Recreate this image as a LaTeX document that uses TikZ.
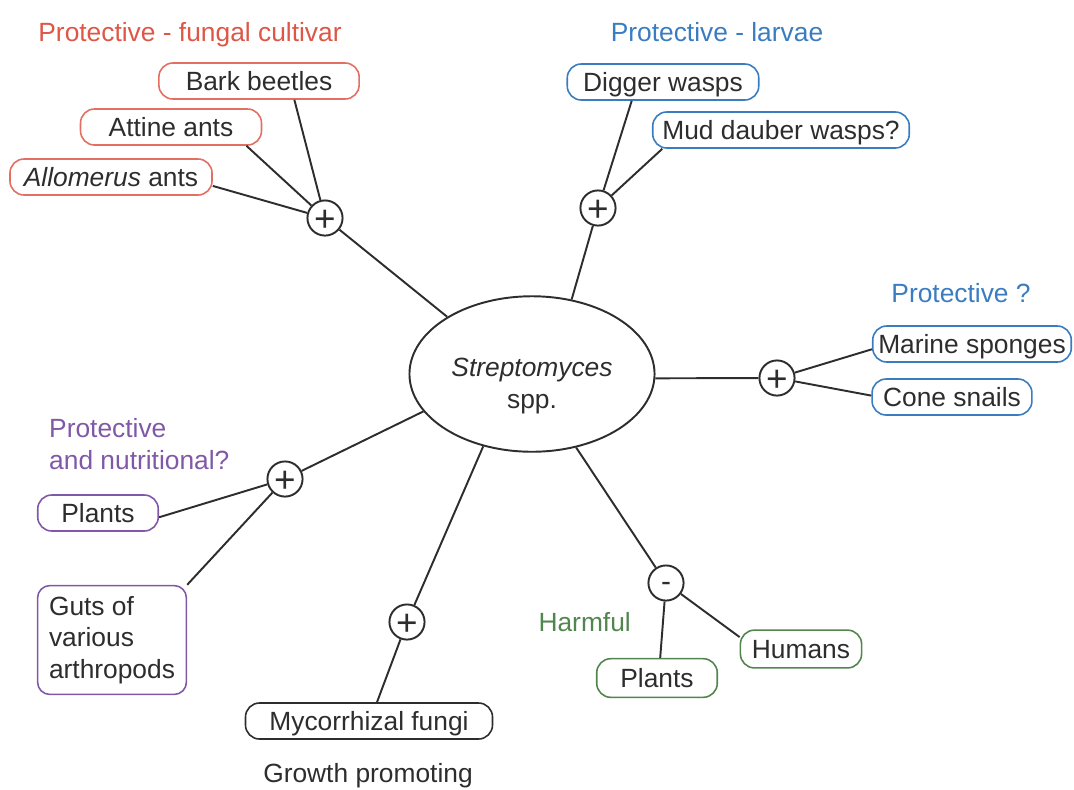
\documentclass[tikz,border=0pt]{standalone}
\usepackage{fontspec}
\setmainfont{Liberation Sans}
\usetikzlibrary{shapes.geometric}
\definecolor{fungred}{RGB}{221,86,70}
\definecolor{larvblue}{RGB}{58,124,192}
\definecolor{nutpurple}{RGB}{128,88,168}
\definecolor{harmgreen}{RGB}{82,134,78}
\definecolor{ink}{RGB}{45,45,45}
\begin{document}
\begin{tikzpicture}[x=0.02cm,y=-0.02cm,font=\fontsize{15}{18}\selectfont]
  \tikzstyle{box}=[draw, rounded corners=8pt, line width=0.9pt, text=ink, inner sep=0pt, minimum height=20.5pt, text height=11pt, text depth=0pt]
  \tikzstyle{head}=[text height=11pt, text depth=0pt]
  \tikzstyle{sign}=[circle, draw=ink, line width=1.1pt, minimum size=20pt, inner sep=0pt, text=ink, font=\fontsize{21}{21}\selectfont, text height=14.8pt, text depth=0pt]
  \tikzstyle{link}=[draw=ink, line width=1.1pt]
  \useasboundingbox (0,0) rectangle (1074,789);

  \node[ellipse, draw=ink, line width=1.1pt, minimum width=139.5pt, minimum height=88.5pt, inner sep=0pt, align=center, text=ink, text height=42pt] (strep) at (532,374) {\textit{Streptomyces}\\spp.};

  \node[head, text=fungred] (t1) at (190,32) {Protective - fungal cultivar};
  \node[box, draw=fungred!85, minimum width=114pt] (bark) at (259,81) {Bark beetles};
  \node[box, draw=fungred!85, minimum width=103pt] (attine) at (171,127) {Attine ants};
  \node[box, draw=fungred!85, minimum width=115pt] (allom) at (111,177) {\textit{Allomerus} ants};
  \node[sign] (p1) at (325,218) {+};
  \draw[link] (bark.-28) -- (p1);
  \draw[link] (attine.-14) -- (p1);
  \draw[link] (allom.-5) -- (p1);
  \draw[link] (p1) -- (strep.146);

  \node[head, text=larvblue] (t2) at (717,32) {Protective - larvae};
  \node[box, draw=larvblue, minimum width=109pt] (digger) at (663,82) {Digger wasps};
  \node[box, draw=larvblue, minimum width=146pt] (mud) at (781,130) {Mud dauber wasps?};
  \node[sign] (p2) at (598,208) {+};
  \draw[link] (digger.211) -- (p2);
  \draw[link] (mud.189) -- (p2);
  \draw[link] (p2) -- (strep.62);

  \node[head, text=larvblue] (t3) at (961,293) {Protective ?};
  \node[box, draw=larvblue, minimum width=113pt] (marine) at (972,344) {Marine sponges};
  \node[box, draw=larvblue, minimum width=91pt] (cone) at (952,397) {Cone snails};
  \node[sign] (p3) at (777,378) {+};
  \draw[link] (strep.-2) -- (p3);
  \draw[link] (p3) -- (marine.183);
  \draw[link] (p3) -- (cone.179);

  \node[text=nutpurple, align=left, anchor=west] (t4) at (43,444) {Protective\\and nutritional?};
  \node[box, draw=nutpurple, minimum width=68.6pt] (plantsp) at (98,513) {Plants};
  \node[box, draw=nutpurple, rounded corners=7pt, align=left, inner xsep=6.5pt, inner ysep=6pt, text height={}, text depth={}] (guts) at (112,640) {Guts of\\various\\arthropods};
  \node[sign] (p4) at (285,479) {+};
  \draw[link] (strep.199) -- (p4);
  \draw[link] (plantsp.-4) -- (p4);
  \draw[link] (guts.north east) -- (p4);

  \node[sign] (p5) at (407,622) {+};
  \node[box, draw=ink, minimum width=140.6pt] (myc) at (369,721) {Mycorrhizal fungi};
  \node[head, text=ink] (t5) at (368,773) {Growth promoting};
  \draw[link] (strep.236) -- (p5);
  \draw[link] (p5) -- (myc.67);

  \node[sign, font=\fontsize{17}{17}\selectfont, text height=9.2pt] (m1) at (666,583) {-};
  \node[head, text=harmgreen, anchor=east] (t6) at (637,622) {Harmful};
  \node[box, draw=harmgreen, minimum width=68.6pt, minimum height=22pt] (plantsg) at (657,678) {Plants};
  \node[box, draw=harmgreen, minimum width=69pt, minimum height=21.5pt] (humans) at (801,649) {Humans};
  \draw[link] (strep.301) -- (m1);
  \draw[link] (m1) -- (plantsg.81);
  \draw[link] (m1) -- (humans.169);
\end{tikzpicture}
\end{document}
